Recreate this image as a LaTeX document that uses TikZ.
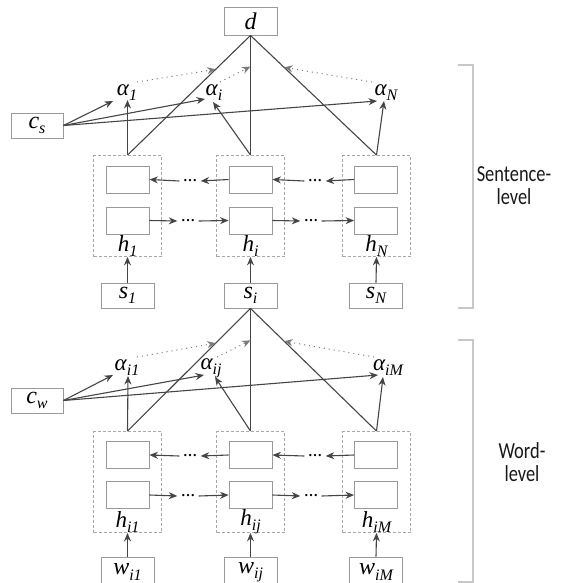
\documentclass[tikz,border=0pt]{standalone}
\usepackage{fontspec}
\setmainfont{Liberation Serif}
\newfontfamily\sidefont[FakeStretch=0.8]{Carlito}
\usetikzlibrary{arrows.meta}
\definecolor{linegray}{HTML}{454545}
\definecolor{boxgray}{HTML}{9A9A9A}
\definecolor{dashgray}{HTML}{A8A8A8}
\definecolor{dotgray}{HTML}{7A7A7A}
\definecolor{brackgray}{HTML}{C8C8C8}
\definecolor{sidetext}{HTML}{1A1A1A}
\newcommand\lsub[1]{\raisebox{-0.22em}{\fontsize{16}{16}\selectfont\itshape #1}}
\newcommand\lab[2]{{\itshape #1\lsub{#2}}}
\begin{document}
\begin{tikzpicture}[x=1pt,y=-1pt,
  box/.style={draw=boxgray, line width=0.9pt, minimum width=53pt, minimum height=25pt, inner sep=0pt, font=\fontsize{24}{24}\selectfont\itshape},
  dbox/.style={draw=dashgray, line width=0.8pt, dash pattern=on 3pt off 2pt, minimum width=68pt, minimum height=101pt, inner sep=0pt},
  cell/.style={draw=boxgray, line width=0.9pt, minimum width=43pt, minimum height=27pt, inner sep=0pt},
  lbl/.style={inner sep=0pt, font=\fontsize{23}{23}\selectfont\itshape},
  ell/.style={inner sep=0pt, minimum width=21pt, minimum height=8pt, font=\fontsize{14}{14}\selectfont\bfseries},
  arr/.style={draw=linegray, line width=1.1pt, -{Stealth[length=8.5pt,width=7pt]}},
  ln/.style={draw=linegray, line width=1.1pt},
  dots/.style={draw=dotgray, line width=1pt, dash pattern=on 1pt off 4pt, -{Stealth[length=8.5pt,width=7pt]}},
  brack/.style={draw=brackgray, line width=1.4pt},
  side/.style={inner sep=0pt, align=center, text=sidetext, font=\sidefont\fontsize{23}{23}\selectfont}
]
\useasboundingbox (0,0) rectangle (565,583);

% ===== Sentence level =====
\node[box, minimum height=28pt] (d) at (250.5,21) {d};
\node[box, minimum width=52pt] (cs) at (37,125.5) {\lab{c}{s}};
\node[lbl] (a1) at (127,93) {\lab{α}{1}};
\node[lbl] (ai) at (214,93) {\lab{α}{i}};
\node[lbl] (aN) at (386,93) {\lab{α}{N}};

\node[dbox] (H1) at (127.5,206) {};
\node[dbox] (Hi) at (250.5,206) {};
\node[dbox] (HN) at (376.5,206) {};
\node[cell] (b1) at (127.5,179.5) {};
\node[cell] (bi) at (250.5,179.5) {};
\node[cell] (bN) at (376,179.5) {};
\node[cell] (f1) at (127.5,220.5) {};
\node[cell] (fi) at (250.5,220.5) {};
\node[cell] (fN) at (376,220.5) {};
\node[ell] (eb1) at (190,181) {…};
\node[ell] (ebN) at (315,181) {…};
\node[ell] (ef1) at (188,221) {…};
\node[ell] (efN) at (311,221) {…};
\node[lbl] (h1) at (127.5,246) {\lab{h}{1}};
\node[lbl] (hi) at (250.5,246) {\lab{h}{i}};
\node[lbl] (hN) at (376.5,246) {\lab{h}{N}};
\node[box] (s1) at (127.5,295.5) {\lab{s}{1}};
\node[box] (si) at (250.5,295.5) {\lab{s}{i}};
\node[box] (sN) at (376,295.5) {\lab{s}{N}};

\draw[ln] (d.south) -- (H1.north) coordinate[pos=0.283] (p1);
\draw[ln] (d.south) -- (Hi.north) coordinate[pos=0.26] (p2);
\draw[ln] (d.south) -- (HN.north) coordinate[pos=0.267] (p3);
\draw[arr] (H1.north) -- ([shift={(0.5,7)}]a1.center);
\draw[arr] (Hi.north) -- ([shift={(-1,9)}]ai.center);
\draw[arr] (HN.north) -- ([shift={(-2,8)}]aN.center);
\draw[arr] (cs.east) -- ([shift={(-14,8)}]a1.center);
\draw[arr] (cs.east) -- ([shift={(-9,6)}]ai.center);
\draw[arr] (cs.east) -- ([shift={(-9,8)}]aN.center);
\draw[dots] ([shift={(10,-11)}]a1.center) -- (p1);
\draw[dots] ([shift={(6,-11)}]ai.center) -- (p2);
\draw[dots] ([shift={(-14,-11)}]aN.center) -- (p3);

\draw[arr] (bi.west) -- (eb1.east);
\draw[arr] (eb1.west) -- (b1.east);
\draw[arr] (bN.west) -- (ebN.east);
\draw[arr] (ebN.west) -- (bi.east);
\draw[arr] (f1.east) -- (ef1.west);
\draw[arr] (ef1.east) -- (fi.west);
\draw[arr] (fi.east) -- (efN.west);
\draw[arr] (efN.east) -- (fN.west);
\draw[arr] (s1.north) -- (H1.south);
\draw[arr] (si.north) -- (Hi.south);
\draw[arr] (sN.north) -- (HN.south);

% ===== Word level =====
\node[box, minimum width=52pt] (cw) at (37,400.5) {\lab{c}{w}};
\node[lbl] (b1a) at (127,368) {\lab{α}{i1}};
\node[lbl] (bja) at (211,368) {\lab{α}{ij}};
\node[lbl] (bMa) at (388,368) {\lab{α}{iM}};

\node[dbox] (G1) at (127.5,482) {};
\node[dbox] (Gj) at (250.5,482) {};
\node[dbox] (GM) at (376.5,482) {};
\node[cell] (wb1) at (127.5,455) {};
\node[cell] (wbj) at (250.5,455) {};
\node[cell] (wbM) at (376,455) {};
\node[cell] (wf1) at (127.5,495) {};
\node[cell] (wfj) at (250.5,495) {};
\node[cell] (wfM) at (376,495) {};
\node[ell] (web1) at (190,456) {…};
\node[ell] (webM) at (315,456) {…};
\node[ell] (wef1) at (188,496) {…};
\node[ell] (wefM) at (311,496) {…};
\node[lbl] (g1) at (127.5,522) {\lab{h}{i1}};
\node[lbl] (gj) at (250.5,522) {\lab{h}{ij}};
\node[lbl] (gM) at (376.5,522) {\lab{h}{iM}};
\node[box, minimum height=30pt] (w1) at (127.5,572) {\lab{w}{i1}};
\node[box, minimum height=30pt] (wj) at (250.5,572) {\lab{w}{ij}};
\node[box, minimum height=30pt] (wM) at (376,572) {\lab{w}{iM}};

\draw[ln] (si.south) -- (G1.north) coordinate[pos=0.283] (q1);
\draw[ln] (si.south) -- (Gj.north) coordinate[pos=0.26] (q2);
\draw[ln] (si.south) -- (GM.north) coordinate[pos=0.267] (q3);
\draw[arr] (G1.north) -- ([shift={(1,8)}]b1a.center);
\draw[arr] (Gj.north) -- ([shift={(4,9)}]bja.center);
\draw[arr] (GM.north) -- ([shift={(-5,9)}]bMa.center);
\draw[arr] (cw.east) -- ([shift={(-14,7)}]b1a.center);
\draw[arr] (cw.east) -- ([shift={(-7,7)}]bja.center);
\draw[arr] (cw.east) -- ([shift={(-10,7)}]bMa.center);
\draw[dots] ([shift={(10,-11)}]b1a.center) -- (q1);
\draw[dots] ([shift={(6,-11)}]bja.center) -- (q2);
\draw[dots] ([shift={(-14,-11)}]bMa.center) -- (q3);

\draw[arr] (wbj.west) -- (web1.east);
\draw[arr] (web1.west) -- (wb1.east);
\draw[arr] (wbM.west) -- (webM.east);
\draw[arr] (webM.west) -- (wbj.east);
\draw[arr] (wf1.east) -- (wef1.west);
\draw[arr] (wef1.east) -- (wfj.west);
\draw[arr] (wfj.east) -- (wefM.west);
\draw[arr] (wefM.east) -- (wfM.west);
\draw[arr] (w1.north) -- (G1.south);
\draw[arr] (wj.north) -- (Gj.south);
\draw[arr] (wM.north) -- (GM.south);

% ===== Brackets and side labels =====
\coordinate (st) at (458,65);
\coordinate (sb) at (458,308);
\coordinate (wt) at (458,340);
\coordinate (wbt) at (458,582);
\draw[brack] (st) -- ++(15,0) |- (sb);
\draw[brack] (wt) -- ++(15,0) |- (wbt);
\node[side] (sent) at (514,186) {Sentence-\\level};
\node[side] (word) at (522,462) {Word-\\level};
\end{tikzpicture}
\end{document}
